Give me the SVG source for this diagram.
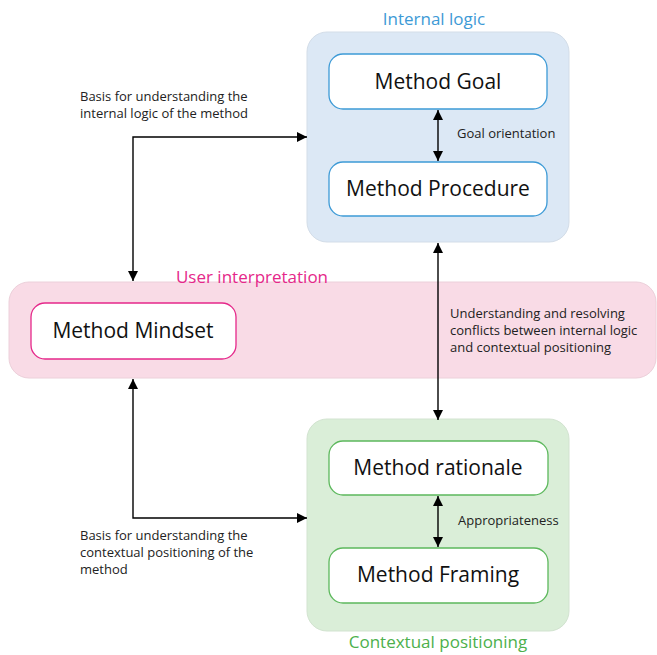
<svg xmlns="http://www.w3.org/2000/svg" width="657" height="655" viewBox="0 0 657 655">
<style>
text{font-family:"Open Sans","Noto Sans",sans-serif;}
.box{fill:#fff;stroke-width:1.3;}
.bt{font-size:21px;fill:#111;text-anchor:middle;}
.lbl{font-size:13px;fill:#222;}
.title{font-size:17px;text-anchor:middle;}
.conn{stroke:#000;stroke-width:1.4;fill:none;}
</style>
<defs>
<marker id="ah" viewBox="0 0 10 10" refX="10" refY="5" markerWidth="10" markerHeight="10" markerUnits="userSpaceOnUse" orient="auto-start-reverse">
<path d="M0,0 L10,5 L0,10 Z" fill="#000"/>
</marker>
</defs>
<rect width="657" height="655" fill="#fff"/>
<g id="user-interpretation">
<rect x="9" y="282" width="647" height="96" rx="20" fill="#f9dbe6" stroke="#ecd0da" stroke-width="1"/>
<text class="title" x="252" y="283" fill="#e5288a">User interpretation</text>
</g>
<g id="internal-logic">
<rect x="307" y="32" width="262" height="210" rx="20" fill="#dce8f5" stroke="#d3dde8" stroke-width="1"/>
<text class="title" x="434" y="25" fill="#3d9ad6">Internal logic</text>
</g>
<g id="contextual-positioning">
<rect x="307" y="419" width="262" height="212" rx="20" fill="#daeed8" stroke="#d2e3d0" stroke-width="1"/>
<text class="title" x="438" y="648" fill="#4cb04c">Contextual positioning</text>
</g>
<g id="method-goal">
<rect class="box" x="329" y="54" width="218" height="55" rx="14" stroke="#3d9ad6"/>
<text class="bt" x="438" y="89">Method Goal</text>
</g>
<g id="method-procedure">
<rect class="box" x="329" y="162" width="218" height="54" rx="14" stroke="#3d9ad6"/>
<text class="bt" x="438" y="196">Method Procedure</text>
</g>
<g id="method-mindset">
<rect class="box" x="31" y="303" width="205" height="56" rx="14" stroke="#e5288a"/>
<text class="bt" x="133" y="338">Method Mindset</text>
</g>
<g id="method-rationale">
<rect class="box" x="329" y="441" width="219" height="54" rx="14" stroke="#5cb85c"/>
<text class="bt" x="438" y="475">Method rationale</text>
</g>
<g id="method-framing">
<rect class="box" x="329" y="548" width="219" height="55" rx="14" stroke="#5cb85c"/>
<text class="bt" x="438" y="582">Method Framing</text>
</g>
<g id="connectors">
<line class="conn" x1="438" y1="110" x2="438" y2="161" marker-start="url(#ah)" marker-end="url(#ah)"/>
<line class="conn" x1="438" y1="496" x2="438" y2="547" marker-start="url(#ah)" marker-end="url(#ah)"/>
<line class="conn" x1="438" y1="243" x2="438" y2="420" marker-start="url(#ah)" marker-end="url(#ah)"/>
<polyline class="conn" points="133,281 133,137 307,137" marker-start="url(#ah)" marker-end="url(#ah)"/>
<polyline class="conn" points="133,379 133,518 307,518" marker-start="url(#ah)" marker-end="url(#ah)"/>
<text class="lbl" x="457" y="138">Goal orientation</text>
<text class="lbl" x="458" y="525">Appropriateness</text>
<text class="lbl" x="80" y="101">Basis for understanding the</text>
<text class="lbl" x="80" y="118">internal logic of the method</text>
<text class="lbl" x="80" y="540">Basis for understanding the</text>
<text class="lbl" x="80" y="557">contextual positioning of the</text>
<text class="lbl" x="80" y="574">method</text>
<text class="lbl" x="450" y="318">Understanding and resolving</text>
<text class="lbl" x="450" y="335">conflicts between internal logic</text>
<text class="lbl" x="450" y="352">and contextual positioning</text>
</g>
</svg>
